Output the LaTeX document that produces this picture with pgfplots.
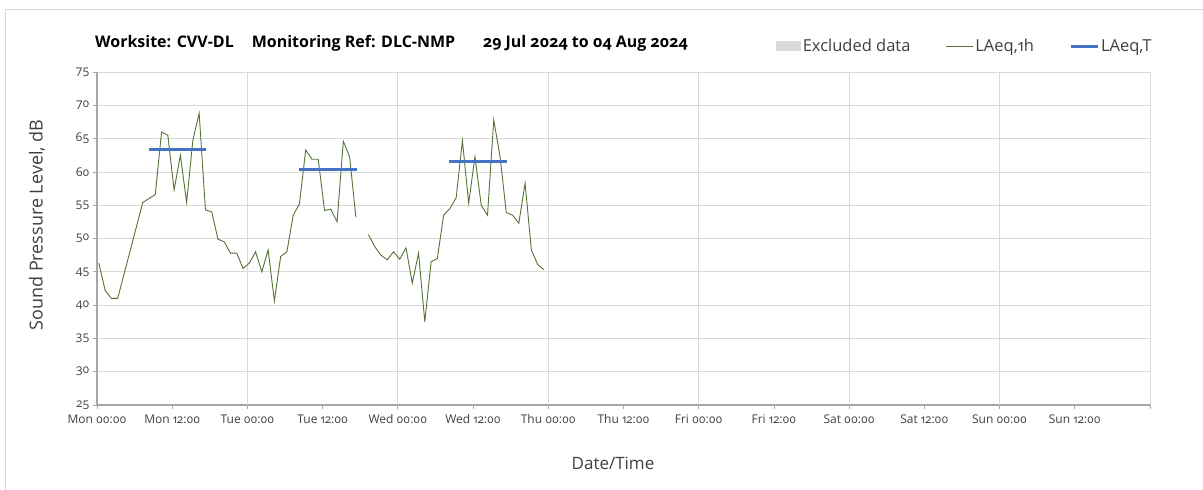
\documentclass[border=0pt]{standalone}
\usepackage{fontspec}
\setmainfont{Open Sans}[Numbers=OldStyle]
\usepackage{pgfplots}
\pgfplotsset{compat=1.18}
\definecolor{lgreen}{RGB}{84,115,54}
\definecolor{lblue}{RGB}{68,114,196}
\definecolor{gridc}{RGB}{217,217,217}
\definecolor{axc}{RGB}{166,166,166}
\definecolor{txt}{RGB}{64,64,64}

\pgfplotstableread{
h  L
0.3 46.3
1.3 42.2
2.3 41.0
3.3 41.0
4.3 44.6
5.3 48.2
6.3 51.8
7.3 55.4
8.3 56.0
9.3 56.6
10.3 66.0
11.3 65.5
12.3 57.3
13.3 62.5
14.3 55.4
15.3 64.8
16.3 68.8
17.3 54.3
18.3 54.0
19.3 49.9
20.3 49.5
21.3 47.8
22.3 47.8
23.3 45.5
24.3 46.3
25.3 48.0
26.3 45.0
27.3 48.3
28.3 40.6
29.3 47.3
30.3 48.0
31.3 53.5
32.3 55.2
33.3 63.3
34.3 61.9
35.3 61.9
36.3 54.2
37.3 54.4
38.3 52.5
39.3 64.6
40.3 62.3
41.3 53.2
42.3 nan
43.3 50.6
44.3 48.8
45.3 47.5
46.3 46.8
47.3 48.0
48.3 46.9
49.3 48.6
50.3 43.3
51.3 47.8
52.3 37.5
53.3 46.5
54.3 47.0
55.3 53.5
56.3 54.5
57.3 56.1
58.3 64.7
59.3 55.3
60.3 62.3
61.3 55.0
62.3 53.5
63.3 67.8
64.3 62.3
65.3 53.9
66.3 53.5
67.3 52.3
68.3 58.3
69.3 48.3
70.3 46.1
71.3 45.3
}\hourly

\pgfplotstableread{
h  L
8.3 63.4
17.4 63.4
nan nan
32.2 60.4
41.5 60.4
nan nan
56.1 61.6
65.4 61.6
}\period

\begin{document}
\begin{tikzpicture}[x=1pt,y=1pt]
\useasboundingbox (0,0) rectangle (1203,-490);
\draw[gridc] (5,-9) rectangle (1260,-540);
\node[anchor=west, inner sep=0pt, font=\fontsize{16}{18}\selectfont\bfseries] at (95,-43)
  {Worksite: CVV-DL\hspace{18pt}Monitoring Ref: DLC-NMP\hspace{28pt}29 Jul 2024 to 04 Aug 2024};
\node[rotate=90, font=\fontsize{18}{20}\selectfont, text=txt] at (37,-225) {Sound Pressure Level, dB};
\node[font=\fontsize{17}{19}\selectfont, text=txt] at (613,-463) {Date/Time};
\begin{axis}[
  at={(97pt,-405pt)}, anchor=south west,
  scale only axis, width=1053pt, height=333pt,
  xmin=0, xmax=168, ymin=25, ymax=75,
  axis x line*=bottom, axis y line*=left,
  axis line style={axc, line width=1.1pt, -},
  xtick={0,12,...,168},
  xticklabels={Mon 00:00,Mon 12:00,Tue 00:00,Tue 12:00,Wed 00:00,Wed 12:00,Thu 00:00,Thu 12:00,Fri 00:00,Fri 12:00,Sat 00:00,Sat 12:00,Sun 00:00,Sun 12:00,{}},
  ytick={25,30,...,75},
  tick align=outside, major tick length=4pt,
  tick style={axc, line width=0.8pt},
  ymajorgrids, grid style={gridc, line width=0.8pt},
  extra x ticks={24,48,...,168}, extra x tick labels={},
  extra x tick style={xmajorgrids=true, major tick length=0pt},
  ticklabel style={font=\fontsize{12}{14}\selectfont, text=txt},
  xticklabel style={yshift=-2pt},
  /pgf/number format/assume math mode=true,
  unbounded coords=jump,
  legend columns=3,
  legend style={at={(axis description cs:0.645,1.078)}, anchor=west, draw=none, fill=none,
    font=\fontsize{16.5}{18}\selectfont, text=txt, inner xsep=0pt,
    /tikz/every even column/.append style={column sep=33pt}},
  legend cell align=left,
]
\addlegendimage{legend image code/.code={\fill[gridc] (0pt,-4.5pt) rectangle (24pt,4.5pt);}}
\addlegendentry{Excluded data}
\addplot[lgreen, line width=0.9pt, mark=none,
  legend image code/.code={\draw[lgreen, line width=0.9pt] (0pt,0pt) -- (27pt,0pt);}] table[x=h,y=L] {\hourly};
\addlegendentry{LAeq,1h}
\addplot[lblue, line width=3pt, mark=none,
  legend image code/.code={\draw[lblue, line width=3pt] (0pt,0pt) -- (27pt,0pt);}] table[x=h,y=L] {\period};
\addlegendentry{LAeq,T}
\end{axis}
\end{tikzpicture}
\end{document}
